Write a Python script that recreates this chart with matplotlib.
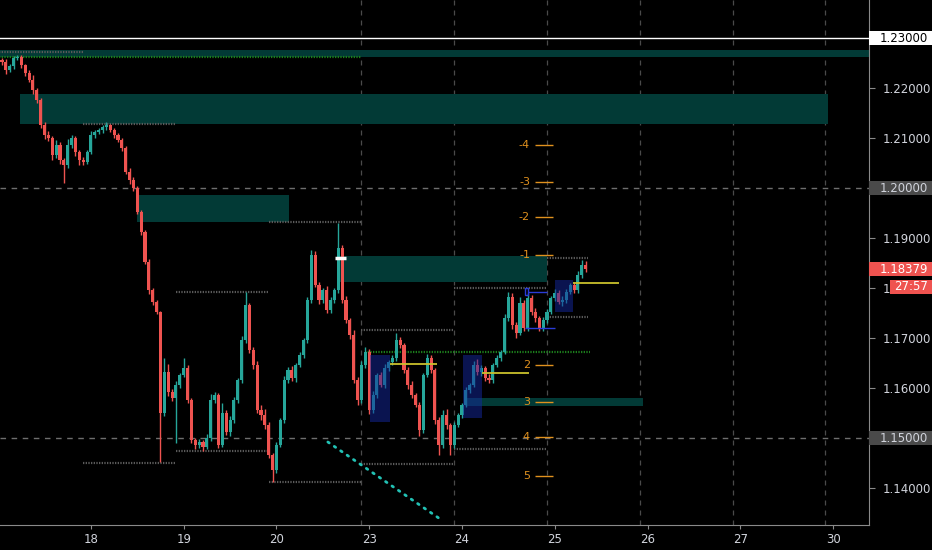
import matplotlib
matplotlib.use('Agg')
import matplotlib.pyplot as plt
import matplotlib.transforms as mtransforms
from matplotlib.patches import Rectangle
import numpy as np

# hourly closes (EUR/USD style), open of each candle = previous close
first_open = 1.2256
closes = [1.2252, 1.2236, 1.2244, 1.2260, 1.2262, 1.2246, 1.2230, 1.2216, 1.2196, 1.2176,
          1.2126, 1.2106, 1.2100, 1.2066, 1.2086, 1.2056, 1.2046, 1.2086, 1.2100, 1.2072,
          1.2056, 1.2052, 1.2072, 1.2106, 1.2112, 1.2116, 1.2122, 1.2126, 1.2116, 1.2106,
          1.2096, 1.2080, 1.2032, 1.2016, 1.2000, 1.1952, 1.1912, 1.1852, 1.1796, 1.1772,
          1.1752, 1.1550, 1.1632, 1.1592, 1.1580, 1.1606, 1.1626, 1.1640, 1.1576, 1.1496,
          1.1486, 1.1492, 1.1482, 1.1500, 1.1576, 1.1586, 1.1486, 1.1550, 1.1512, 1.1536,
          1.1576, 1.1616, 1.1696, 1.1766, 1.1676, 1.1646, 1.1556, 1.1546, 1.1526, 1.1466,
          1.1436, 1.1486, 1.1536, 1.1616, 1.1636, 1.1620, 1.1646, 1.1666, 1.1696, 1.1776,
          1.1866, 1.1806, 1.1776, 1.1796, 1.1756, 1.1776, 1.1796, 1.1880, 1.1776, 1.1736,
          1.1706, 1.1616, 1.1576, 1.1646, 1.1672, 1.1556, 1.1586, 1.1626, 1.1606, 1.1640,
          1.1652, 1.1660, 1.1696, 1.1686, 1.1636, 1.1606, 1.1586, 1.1566, 1.1516, 1.1626,
          1.1660, 1.1636, 1.1536, 1.1486, 1.1546, 1.1526, 1.1486, 1.1526, 1.1546, 1.1566,
          1.1596, 1.1606, 1.1646, 1.1632, 1.1640, 1.1620, 1.1616, 1.1646, 1.1660, 1.1672,
          1.1740, 1.1782, 1.1726, 1.1710, 1.1770, 1.1720, 1.1780, 1.1752, 1.1740, 1.1720,
          1.1736, 1.1752, 1.1780, 1.1790, 1.1772, 1.1776, 1.1792, 1.1806, 1.1796, 1.1826,
          1.1846, 1.18379]
# wick sizes in pips
upper_wick = [4, 6, 5, 4, 5, 4, 3, 6, 10, 4,
              5, 6, 8, 5, 10, 6, 4, 12, 6, 5,
              4, 6, 5, 8, 4, 5, 4, 6, 3, 4,
              5, 4, 5, 8, 6, 4, 5, 4, 6, 5,
              4, 3, 28, 15, 6, 8, 5, 20, 6, 4,
              5, 6, 4, 8, 12, 6, 5, 20, 6, 8,
              6, 5, 8, 26, 5, 6, 8, 10, 12, 6,
              5, 6, 5, 8, 6, 8, 5, 6, 4, 6,
              10, 8, 6, 5, 8, 6, 5, 50, 6, 8,
              5, 10, 6, 8, 10, 6, 8, 5, 6, 8,
              5, 6, 14, 6, 5, 6, 8, 5, 6, 5,
              8, 6, 5, 6, 10, 12, 5, 6, 5, 4,
              6, 5, 8, 12, 6, 5, 8, 5, 6, 5,
              8, 10, 8, 6, 12, 6, 10, 6, 8, 5,
              6, 6, 5, 8, 6, 8, 6, 5, 6, 8,
              10, 8]
lower_wick = [6, 8, 5, 6, 4, 5, 6, 5, 8, 6,
              6, 8, 5, 10, 6, 8, 36, 5, 6, 8,
              10, 6, 5, 4, 5, 4, 6, 5, 4, 6,
              5, 6, 5, 8, 6, 5, 6, 5, 8, 6,
              5, 98, 6, 8, 5, 90, 6, 5, 6, 5,
              8, 6, 8, 5, 6, 5, 6, 5, 6, 8,
              5, 6, 5, 6, 5, 8, 6, 10, 8, 6,
              24, 6, 5, 6, 5, 6, 8, 5, 6, 5,
              6, 5, 8, 6, 5, 6, 5, 6, 5, 6,
              8, 6, 10, 5, 6, 8, 5, 6, 5, 6,
              5, 6, 5, 6, 5, 8, 6, 5, 12, 6,
              5, 6, 8, 20, 6, 8, 20, 6, 5, 6,
              5, 6, 5, 6, 8, 6, 5, 6, 5, 6,
              5, 6, 8, 10, 5, 6, 5, 6, 8, 6,
              5, 6, 5, 6, 5, 8, 6, 5, 6, 5,
              6, 5]

day_labels = ['18', '19', '20', '23', '24', '25', '26', '27', '30']
price_ticks = [1.14, 1.15, 1.16, 1.17, 1.18, 1.19, 1.20, 1.21, 1.22, 1.23]
last_price = 1.18379
countdown = '27:57'

# supply / demand zones: (x start, x end, low, high) in hourly bar units
zones = [(-1, 230, 1.2262, 1.2276),
         (4.7, 213.7, 1.2128, 1.2188),
         (34.9, 74.3, 1.1932, 1.1986),
         (87.5, 141.0, 1.1812, 1.1864),
         (119.8, 165.9, 1.1564, 1.1580)]
# blue boxes
boxes = [(95.2, 100.4, 1.1532, 1.1666),
         (119.3, 124.2, 1.1540, 1.1666),
         (143.1, 147.7, 1.1752, 1.1816)]
# previous day high / low levels
day_levels = [(-1, 21, 1.2272), (21, 45, 1.2128), (21, 45, 1.1450),
              (45, 69, 1.1792), (45, 69, 1.1474), (69, 93, 1.1932), (69, 93, 1.1412),
              (93, 117, 1.1716), (93, 117, 1.1448), (117, 141, 1.1800), (117, 141, 1.1478),
              (141, 151.5, 1.1860), (141, 151.5, 1.1742)]
green_levels = [(-1, 93, 1.2262), (93.9, 152, 1.1672)]
yellow_levels = [(100.4, 112.5, 1.1648), (124.2, 136.4, 1.1630), (147.7, 159.6, 1.1810)]
fib_labels = ['-4', '-3', '-2', '-1', '2', '3', '4', '5']
fib_prices = [1.2086, 1.2012, 1.1942, 1.1866, 1.1646, 1.1572, 1.1502, 1.1424]
trend_x = [84.3, 114.1]
trend_y = [1.1492, 1.1334]

UP = '#26a69a'
DOWN = '#ef5350'
TXT = '#d1d4dc'

fig = plt.figure(figsize=(9.32, 5.5), dpi=100, facecolor='black')
ax = fig.add_axes([0, 25 / 550, 869 / 932, 525 / 550])
ax.set_facecolor('black')
ax.set_xlim(-0.52, 224.3)
ax.set_ylim(1.1326, 1.2376)

# zones
for x0, x1, lo, hi in zones:
    ax.add_patch(Rectangle((x0, lo), x1 - x0, hi - lo, color='#023a36', lw=0, zorder=1))

# grid lines (session starts) and round levels
for i in range(3, 9):
    ax.axvline(21 + 24 * i, color='#4a4a4a', lw=0.9, ls=(0, (4, 4)), zorder=0.5)
for p in [1.20, 1.15]:
    ax.axhline(p, color='#6e6e6e', lw=1, ls=(0, (4, 4)), zorder=0.6)
ax.axhline(1.23, color='white', lw=1, zorder=0.6)

for x0, x1, p in day_levels:
    ax.hlines(p, x0, x1, color='#5a5a5a', lw=1.6, ls=(0, (0.6, 0.6)), zorder=1.5)
for x0, x1, p in green_levels:
    ax.hlines(p, x0, x1, color='#1c7d1c', lw=1.6, ls=(0, (0.6, 0.6)), zorder=1.5)

# candles
o = np.array([first_open] + closes[:-1])
c = np.array(closes)
hi = np.maximum(o, c) + np.array(upper_wick) * 0.0001
lo = np.minimum(o, c) - np.array(lower_wick) * 0.0001
x = np.arange(len(c))
cols = [UP if cc >= oo else DOWN for oo, cc in zip(o, c)]
ax.vlines(x, lo, hi, colors=cols, lw=1.0, zorder=2)
body = np.maximum(np.abs(c - o), 0.00014)
ax.bar(x, body, bottom=np.minimum(o, c), width=0.8, color=cols, lw=0, zorder=2.1)

# blue boxes over candles
for x0, x1, b0, b1 in boxes:
    ax.add_patch(Rectangle((x0, b0), x1 - x0, b1 - b0, color='#1428a0', alpha=0.5, lw=0, zorder=3))
ax.add_patch(Rectangle((135.3, 1.1786), 0.9, 0.0014, fill=False, ec='#2a3cd8', lw=1, zorder=3))
ax.hlines(1.1792, 136.2, 141, color='#2a3cd8', lw=1, zorder=3)
ax.hlines(1.1720, 135.3, 143.1, color='#2a3cd8', lw=1, zorder=3)

for x0, x1, p in yellow_levels:
    ax.hlines(p, x0, x1, color='#c9c02c', lw=1.3, zorder=3.5)
ax.hlines(1.1860, 86.2, 89.0, color='white', lw=2.5, zorder=3.5)

# fib levels
for lbl, p in zip(fib_labels, fib_prices):
    ax.hlines(p, 137.9, 142.6, color='#e0911e', lw=1, zorder=3.5)
    ax.text(136.6, p, lbl, ha='right', va='center', color='#e0911e', fontsize=8, zorder=3.5)

ax.plot(trend_x, trend_y, color='#22c1b4', lw=2, ls=(0, (0.6, 2.2)),
        dash_capstyle='round', zorder=3.5)

# axes
for s in ['top', 'left']:
    ax.spines[s].set_visible(False)
ax.spines['right'].set_color('#8a8a8a')
ax.spines['bottom'].set_color('#8a8a8a')
ax.yaxis.tick_right()
ax.set_yticks(price_ticks)
# 1.18000 is mostly hidden behind the countdown box, only "1." shows
ylabels = []
for p in price_ticks:
    if p in (1.15, 1.20, 1.23):
        ylabels.append('')
    elif p == 1.18:
        ylabels.append('1.')
    else:
        ylabels.append('%.5f' % p)
ax.set_yticklabels(ylabels)
ax.set_xticks([23 + 24 * i for i in range(len(day_labels))])
ax.set_xticklabels(day_labels)
ax.tick_params(axis='y', colors='#8a8a8a', labelcolor=TXT, labelsize=8.5, length=4, pad=6)
ax.tick_params(axis='x', colors='#8a8a8a', labelcolor=TXT, labelsize=8.5, length=3, pad=3)

# highlighted price labels on the axis
tr = mtransforms.blended_transform_factory(fig.transFigure, ax.transData)
x_ax = 869 / 932
specs = [(1.23, '1.23000', 'white', 'black'),
         (1.20, '1.20000', '#4a4a4a', TXT),
         (1.15, '1.15000', '#4a4a4a', TXT),
         (last_price, '%.5f' % last_price, DOWN, 'white')]
for p, s, bg, fg in specs:
    fig.add_artist(Rectangle((x_ax, p - 0.0014), 1 - x_ax, 0.0028, color=bg, lw=0,
                             transform=tr, clip_on=False))
    fig.text(880 / 932, p, s, transform=tr, ha='left', va='center', color=fg, fontsize=8.5)
pc = last_price - 0.0035
fig.add_artist(Rectangle((890 / 932, pc - 0.0014), 42 / 932, 0.0028, color=DOWN, lw=0,
                         transform=tr, clip_on=False))
fig.text(911 / 932, pc, countdown, transform=tr, ha='center', va='center', color='white', fontsize=8.5)

fig.savefig('out.png', dpi=100, facecolor='black')
